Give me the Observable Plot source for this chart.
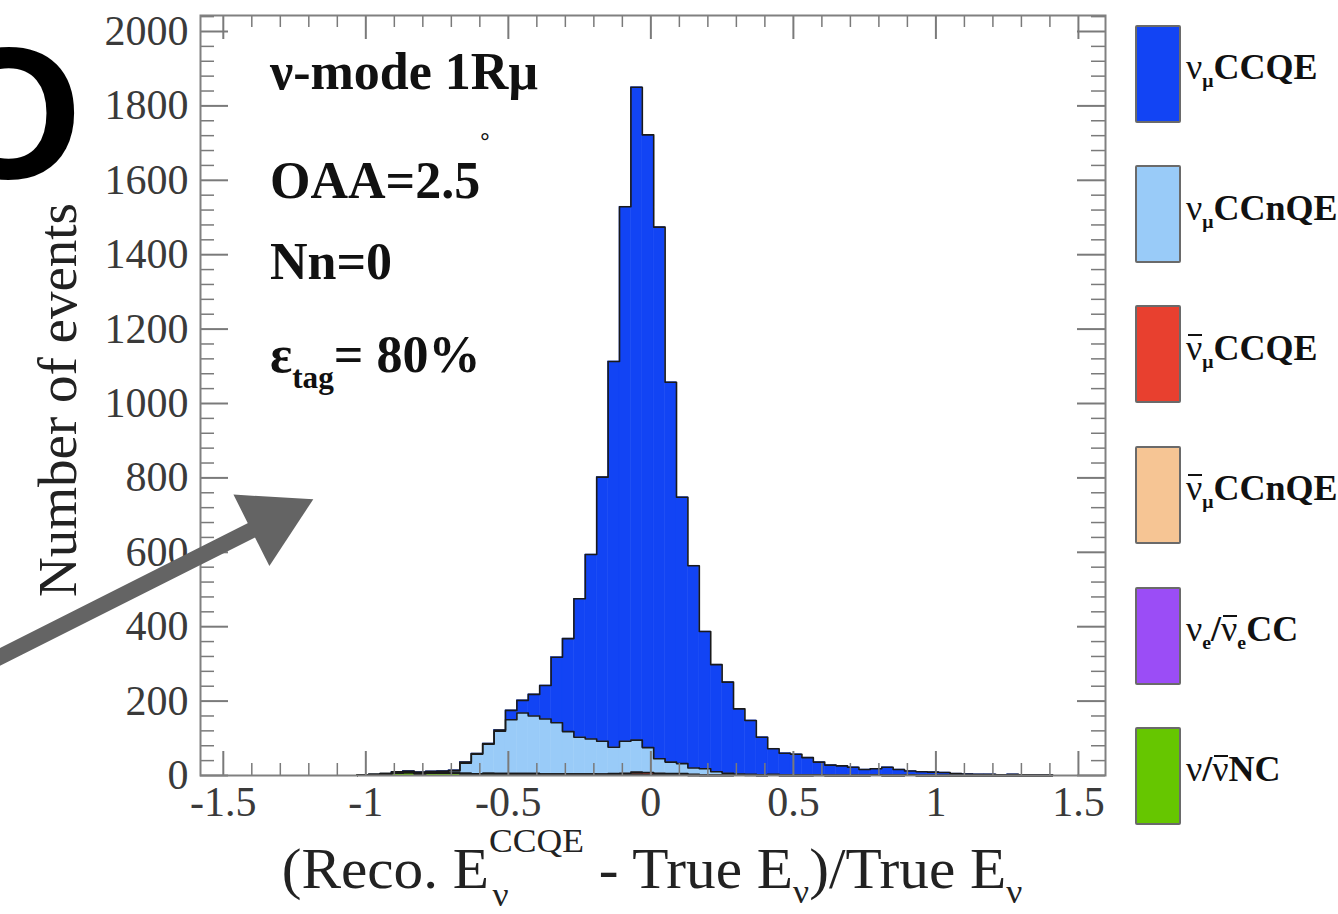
<!DOCTYPE html>
<html>
<head>
<meta charset="utf-8">
<script src="https://cdn.jsdelivr.net/npm/d3@7"></script>
<script src="https://cdn.jsdelivr.net/npm/@observablehq/plot@0.6"></script>
<style>
  body { margin: 0; background: #fff; }
  #wrap { position: relative; width: 1338px; height: 914px; overflow: hidden; font-family: "Liberation Serif", "DejaVu Serif", serif; background: #fff; }
  #wrap svg { position: absolute; left: 0; top: 0; }
  .t { position: absolute; white-space: nowrap; line-height: 1; }
  .ann { font-weight: bold; font-size: 52px; color: #111; left: 270px; }
  .leg { font-weight: bold; font-size: 36px; color: #111; left: 1186px; }
  .box { position: absolute; left: 1135px; width: 42px; height: 94px; border: 2px solid #6a6a6a; border-radius: 2px; }
  .nu { font-weight: normal; }
  .bar { position: relative; font-weight: normal; }
  .bar::before { content: ""; position: absolute; left: 0.06em; right: 0.02em; top: 0.16em; border-top: 0.07em solid currentColor; }
  .sub { font-size: 0.55em; vertical-align: -0.4em; line-height: 0; }
</style>
</head>
<body>
<div id="wrap"></div>
<script>
// ---------------- data ----------------
// histogram bins: lower edge of first bin and bin width
const binStart = -1.03;
const binWidth = 0.04;

// counts per bin (61 bins from -1.03 to 1.41)
const nuMuCCQE = [0,0,0,2,2,2,2,2,2,3, 2,2,3,25,34,58,90,176,250,372, 496,710,1037,1437,1755,1647,1429,1021,716,544, 369,288,245,175,145,101,69,59,56,47, 35,28,26,22,16,17,22,16,11,10, 9,8,5,4,3,3,2,3,2,1, 1];
const nuMuCCnQE = [0,1,2,2,2,2,3,3,6,28, 53,79,114,145,163,155,148,138,114,99, 94,88,71,86,86,67,39,31,27,17, 17,9,5,2,1,2,2,1,1,1, 0,0,0,0,0,0,0,0,0,0, 0,0,0,0,0,0,0,0,0,0, 0];
const antiNuMuCCQE = [0,0,0,0,0,0,0,0,0,0, 0,0,0,0,0,0,0,0,0,0, 0,1,2,3,5,5,4,3,2,2, 1,1,1,1,1,0,0,0,0,0, 0,0,0,0,0,0,0,0,0,0, 0,0,0,0,0,0,0,0,0,0, 0];
const antiNuMuCCnQE = [0,0,0,0,0,0,0,0,0,0, 0,0,1,1,2,2,2,2,2,2, 2,2,2,2,2,2,1,1,1,1, 0,0,0,0,0,0,0,0,0,0, 0,0,0,0,0,0,0,0,0,0, 0,0,0,0,0,0,0,0,0,0, 0];
const nuECC = [0,0,0,0,0,0,0,0,0,0, 0,0,0,0,0,0,0,0,0,0, 1,0,0,0,1,0,0,0,1,0, 0,0,0,0,1,0,0,0,0,0, 1,0,0,0,0,0,0,0,0,0, 0,0,0,0,0,0,0,0,0,0, 0];
const nuNC = [1,2,3,6,8,5,6,7,6,5, 4,5,4,4,3,3,2,2,2,2, 1,1,1,1,1,1,1,1,1,0, 0,0,0,1,0,0,1,0,0,0, 0,0,0,0,0,1,0,0,1,0, 0,0,0,0,0,0,0,0,0,0, 0];

// axis ticks
const xTicks = [-1.5, -1, -0.5, 0, 0.5, 1, 1.5];
const yTicks = [0, 200, 400, 600, 800, 1000, 1200, 1400, 1600, 1800, 2000];

// annotation arrow (data units): shaft start, shaft end / head centre
const arrowShaft = [{x: -2.317, y: 306}, {x: -1.329, y: 687}];
const arrowHead = [{x: -1.329, y: 687}];

// stacking order bottom -> top, with fill colours
const layers = [nuNC, nuECC, antiNuMuCCnQE, antiNuMuCCQE, nuMuCCnQE, nuMuCCQE];
const layerColors = ["#66c600", "#9b4df6", "#f6c594", "#e8402f", "#99cbf8", "#1244f4"];

// ---------------- layout ----------------
const W = 1338, H = 914, mL = 200, mR = 233, mT = 15, mB = 139;
const FW = W - mL - mR, FH = H - mT - mB;

// ---------------- build stacked rows ----------------
const n = nuMuCCQE.length;
const cum = new Array(n).fill(0);
const rectMarks = [];
const outlineMarks = [];
layers.forEach((vals, k) => {
  const rows = [];
  const pts = [{x: binStart, y: 0}];
  vals.forEach((v, i) => {
    const y1 = cum[i], y2 = cum[i] + v;
    cum[i] = y2;
    const x1 = binStart + i * binWidth, x2 = x1 + binWidth;
    if (v > 0) rows.push({x1, x2, y1, y2});
    pts.push({x: x1, y: y2});
  });
  const xe = binStart + n * binWidth;
  pts.push({x: xe, y: cum[n - 1]});
  pts.push({x: xe, y: 0});
  rectMarks.push(Plot.rect(rows, {x1: "x1", x2: "x2", y1: "y1", y2: "y2", fill: layerColors[k], stroke: layerColors[k], strokeWidth: 0.5}));
  outlineMarks.push(Plot.line(pts, {x: "x", y: "y", curve: "step-after", stroke: "#1a1a1a", strokeWidth: 1.6}));
});

const yMinor = d3.range(0, 2041, 40).filter(v => v % 200 !== 0);
const xMinor = d3.range(-15, 16, 1).map(v => v / 10).filter(v => Math.abs(v * 2 - Math.round(v * 2)) > 1e-9);
const tickColor = "#7a7a7a";

const chart = Plot.plot({
  width: W, height: H,
  marginLeft: mL, marginRight: mR, marginTop: mT, marginBottom: mB,
  style: {background: "transparent", fontFamily: "Liberation Serif, serif", overflow: "visible"},
  x: {domain: [-1.58, 1.595]},
  y: {domain: [0, 2043]},
  marks: [
    ...rectMarks,
    ...outlineMarks.reverse(),
    // y ticks left & right (inside)
    Plot.tickY(yTicks, {y: d => d, stroke: tickColor, strokeWidth: 2, insetRight: FW - 28}),
    Plot.tickY(yMinor, {y: d => d, stroke: tickColor, strokeWidth: 1.5, insetRight: FW - 14}),
    Plot.tickY(yTicks, {y: d => d, stroke: tickColor, strokeWidth: 2, insetLeft: FW - 28}),
    Plot.tickY(yMinor, {y: d => d, stroke: tickColor, strokeWidth: 1.5, insetLeft: FW - 14}),
    // x ticks bottom & top (inside)
    Plot.tickX(xTicks, {x: d => d, stroke: tickColor, strokeWidth: 2, insetTop: FH - 24}),
    Plot.tickX(xMinor, {x: d => d, stroke: tickColor, strokeWidth: 1.5, insetTop: FH - 12}),
    Plot.tickX(xTicks, {x: d => d, stroke: tickColor, strokeWidth: 2, insetBottom: FH - 24}),
    Plot.tickX(xMinor, {x: d => d, stroke: tickColor, strokeWidth: 1.5, insetBottom: FH - 12}),
    Plot.frame({stroke: "#808080", strokeWidth: 2}),
    Plot.axisY(yTicks, {tickSize: 0, tickPadding: 12, fontSize: 42, color: "#3a3a3a", tickFormat: d => String(d), label: null}),
    Plot.axisX(xTicks, {tickSize: 0, tickPadding: 11, fontSize: 42, color: "#3a3a3a", tickFormat: d => String(d), label: null}),
    // overlay arrow
    Plot.line(arrowShaft, {x: "x", y: "y", stroke: "#646464", strokeWidth: 16}),
    Plot.dot(arrowHead, {x: "x", y: "y", symbol: "triangle", r: 29.7, rotate: 63.3, fill: "#646464", stroke: "none"})
  ]
});

const wrap = document.getElementById("wrap");
wrap.innerHTML = `
  <div class="t" style="font-family:'Liberation Sans',sans-serif;font-weight:bold;font-size:188px;color:#000;right:${W - 82}px;top:19px;">O</div>
  <div class="t" style="font-size:55px;color:#222;left:57px;top:400px;transform:translate(-50%,-50%) rotate(-90deg);">Number of events</div>
  <div class="t" style="font-size:57px;color:#222;left:652px;top:840px;transform:translateX(-50%) scaleX(1.04);transform-origin:50% 50%;">(Reco. E<span style="position:relative;font-size:0.6em;vertical-align:1.04em;line-height:0;">CCQE<span style="position:absolute;left:0.1em;top:1.62em;line-height:1;">ν</span></span> - True E<span style="font-size:0.6em;vertical-align:-0.45em;line-height:0;">ν</span>)/True E<span style="font-size:0.6em;vertical-align:-0.45em;line-height:0;">ν</span></div>
  <div class="t ann" style="top:46px;">ν-mode 1Rμ</div>
  <div class="t ann" style="top:141px;">OAA=2.5<span style="font-size:0.45em;vertical-align:2.1em;line-height:0;">°</span></div>
  <div class="t ann" style="top:236px;">Nn=0</div>
  <div class="t ann" style="top:329px;">ε<span style="font-size:0.6em;vertical-align:-0.5em;line-height:0;">tag</span>= 80%</div>
  <div class="box" style="top:25px;background:${layerColors[5]};"></div>
  <div class="box" style="top:165px;background:${layerColors[4]};"></div>
  <div class="box" style="top:305px;background:${layerColors[3]};"></div>
  <div class="box" style="top:446px;background:${layerColors[2]};"></div>
  <div class="box" style="top:587px;background:${layerColors[1]};"></div>
  <div class="box" style="top:727px;background:${layerColors[0]};"></div>
  <div class="t leg" style="top:49px;"><span class="nu">ν</span><span class="sub">μ</span>CCQE</div>
  <div class="t leg" style="top:190px;"><span class="nu">ν</span><span class="sub">μ</span>CCnQE</div>
  <div class="t leg" style="top:330px;"><span class="bar">ν</span><span class="sub">μ</span>CCQE</div>
  <div class="t leg" style="top:470px;"><span class="bar">ν</span><span class="sub">μ</span>CCnQE</div>
  <div class="t leg" style="top:611px;"><span class="nu">ν</span><span class="sub">e</span>/<span class="bar">ν</span><span class="sub">e</span>CC</div>
  <div class="t leg" style="top:751px;"><span class="nu">ν</span>/<span class="bar">ν</span>NC</div>
`;
wrap.appendChild(chart);
</script>
</body>
</html>
